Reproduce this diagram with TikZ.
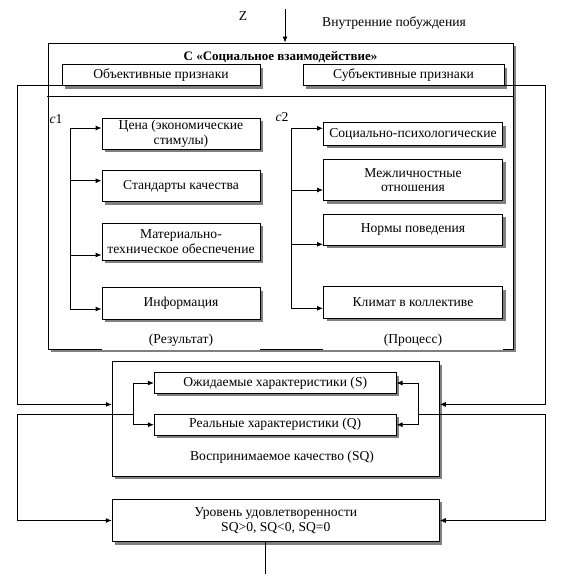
\documentclass[tikz,border=0pt]{standalone}
\usepackage{fontspec}
\setmainfont{Liberation Serif}
\usetikzlibrary{arrows.meta,shadows}
\tikzset{
  box/.style={draw,fill=white,align=center,inner sep=0pt,
    drop shadow={shadow xshift=3pt,shadow yshift=-3pt,fill=black!50,opacity=1}},
  cover/.style={fill=white,inner sep=0pt},
}
\begin{document}
\begin{tikzpicture}[x=1pt,y=-1pt,line cap=rect,line join=miter,>={Latex[length=6pt,width=5pt]},
  font=\fontsize{13.6}{14.6}\selectfont, line width=0.9pt]
  \useasboundingbox (0,0) rectangle (576,576);
  \node (zl) at (243,16) {Z};
  \node (vp) at (394,23) {Внутренние побуждения};
  \node[box,minimum width=465pt,minimum height=306pt] (cbox) at (280.5,196) {};
  \draw (cbox.west |- 0,96) -- (cbox.east |- 0,96);
  \node[font=\fontsize{13}{14}\selectfont\bfseries] (ttl) at (280.5,57) {С «Социальное взаимодействие»};
  \node[box,minimum width=198pt,minimum height=21pt] (objp) at (161,75) {Объективные признаки};
  \node[box,minimum width=201pt,minimum height=21pt] (subp) at (403.5,75) {Субъективные признаки};
  \node (c1) at (56,119) {\textit{c}1};
  \node (c2) at (282,117) {\textit{c}2};
  \node[box,minimum width=158pt,minimum height=31pt] (cena) at (181,133.5) {Цена (экономические\\стимулы)};
  \node[box,minimum width=158pt,minimum height=31.5pt] (stand) at (181,186) {Стандарты качества};
  \node[box,minimum width=158pt,minimum height=37pt] (mat) at (181,241.5) {Материально-\\техническое обеспечение};
  \node[box,minimum width=158pt,minimum height=31.5pt] (info) at (181,303.5) {Информация};
  \node[box,minimum width=179pt,minimum height=22.5pt] (soc) at (413,134) {Социально-психологические};
  \node[box,minimum width=179pt,minimum height=41.7pt] (mezh) at (413,180) {Межличностные\\отношения};
  \node[box,minimum width=179pt,minimum height=30.7pt] (norm) at (413,229.7) {Нормы поведения};
  \node[box,minimum width=179pt,minimum height=31.6pt] (klim) at (413,302.5) {Климат в коллективе};
  \node[cover,minimum width=158pt,minimum height=20pt] (res) at (181,340) {(Результат)};
  \node[cover,minimum width=180pt,minimum height=20pt] (proc) at (413,340) {(Процесс)};
  \foreach \b/\s in {cena/5.5,stand/5.3,mat/-13.5,info/-5.5}
    \draw[<-] ([yshift=\s pt]\b.west) -- ++(-31,0);
  \draw ([xshift=-31pt,yshift=5.5pt]cena.west) -- ([xshift=-31pt,yshift=-5.5pt]info.west);
  \foreach \b/\s in {soc/5.7,mezh/-10,norm/-14.6,klim/-5.8}
    \draw[<-] ([yshift=\s pt]\b.west) -- ++(-31.6,0);
  \draw ([xshift=-31.6pt,yshift=5.7pt]soc.west) -- ([xshift=-31.6pt,yshift=-5.8pt]klim.west);
  \node[box,minimum width=327pt,minimum height=114.3pt] (vosp) at (275.8,418.9) {};
  \node (sq) at (282,457) {Воспринимаемое качество (SQ)};
  \node[box,minimum width=241.7pt,minimum height=20.6pt] (ozh) at (275.2,383) {Ожидаемые характеристики (S)};
  \node[box,minimum width=241.7pt,minimum height=20.7pt] (real) at (275.2,424.7) {Реальные характеристики (Q)};
  \node[box,minimum width=327pt,minimum height=42.4pt] (ur) at (275.8,520.5) {Уровень удовлетворенности\\SQ>0, SQ<0, SQ=0};
  \coordinate (ztop) at (285,9);
  \coordinate (lx) at (17.3,0);
  \coordinate (rx) at (545.5,0);
  \coordinate (kl) at (133.3,414.3);
  \coordinate (kr) at (418.3,414.3);
  \coordinate (vinl) at ([yshift=14.5pt]vosp.west);
  \coordinate (vinr) at ([yshift=14.5pt]vosp.east);
  \coordinate (out) at (265.7,574);
  \draw[->] (ztop) -- (ztop |- cbox.north);
  \draw[->] ([yshift=1pt]objp.south west) -| (vinl -| lx) -- (vinl);
  \draw[->] ([yshift=1pt]subp.south east) -| (vinr -| rx) -- (vinr);
  \draw[<->] (ozh.west) -| (kl) |- (real.west);
  \draw[<->] (ozh.east) -| (kr) |- (real.east);
  \draw[->] (kl) -| (ur.west -| lx) -- (ur.west);
  \draw[->] (kr) -| (ur.east -| rx) -- (ur.east);
  \draw (ur.south -| out) -- (out);
\end{tikzpicture}
\end{document}
